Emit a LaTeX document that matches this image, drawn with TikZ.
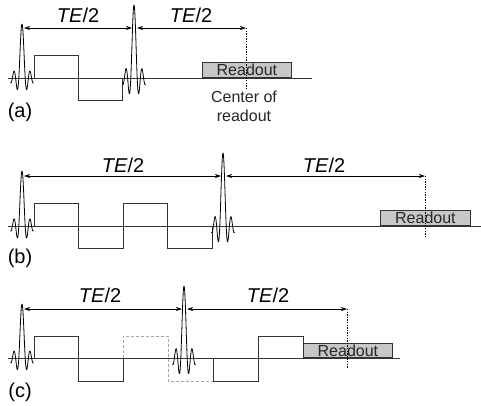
\documentclass[tikz,border=0pt]{standalone}
\usepackage{fontspec}
\setmainfont{Liberation Sans}
\usetikzlibrary{arrows.meta}
\tikzset{
    seqline/.style={line width=0.8pt, black!80},
    dashline/.style={line width=0.8pt, black!35, dash pattern=on 3pt off 2pt},
    dotline/.style={line width=0.8pt, dash pattern=on 1.3pt off 1.3pt},
    span/.style={line width=0.7pt, {Stealth[length=6pt,width=4pt]}-{Stealth[length=6pt,width=4pt]}},
    readbox/.style={draw=black!80, line width=0.8pt, fill=black!22},
    spanlabel/.style={font=\fontsize{20}{20}\selectfont},
    readlabel/.style={font=\fontsize{16}{19}\selectfont, text=black!85},
    panellabel/.style={font=\fontsize{20}{20}\selectfont}
}
\newcommand{\rfpulse}[3]{\draw[line width=0.8pt, shift={(#1,#2)}] plot[domain=-3.6:3.6, samples=72, smooth] ({3.2*\x}, {-#3*sin(180*\x)/(pi*\x)});}
\begin{document}
\begin{tikzpicture}[x=1pt, y=-1pt]
    \useasboundingbox (0,0) rectangle (481,405);

    % (a)
    \node[readbox, minimum width=89pt, minimum height=15pt, inner sep=0pt, anchor=south west] (aread) at (202,78) {};
    \draw[seqline] (8,78) coordinate (as) -- (312,78) coordinate (ae);
    \draw[seqline] (34,78) |- (78,55) |- (122,100) -- (122,78);
    \rfpulse{22}{78}{54}
    \rfpulse{134}{78}{73}
    \draw[dotline] (246,28) coordinate (at) -- (246,90);
    \node[readlabel] (atext) at (aread.center) {Readout};
    \coordinate (al) at (24,28); \coordinate (am) at (132,28); \coordinate (an) at (137,28);
    \draw[span] (al) -- (am);
    \draw[span] (an) -- (at);
    \node[spanlabel] (ate1) at (78,15) {\textit{TE}/2};
    \node[spanlabel] (ate2) at (191,15) {\textit{TE}/2};
    \node[readlabel, align=center] (acenter) at (244,106.5) {Center of\\readout};
    \node[panellabel] (apanel) at (20,112) {(a)};

    % (b)
    \node[readbox, minimum width=90pt, minimum height=15pt, inner sep=0pt, anchor=south west] (bread) at (380,226) {};
    \draw[seqline] (8,226) coordinate (bs) -- (481,226) coordinate (be);
    \draw[seqline] (34,226) |- (78,203) |- (123,248) |- (167,203) |- (212,248) -- (212,226);
    \rfpulse{22}{226}{55}
    \rfpulse{223}{226}{73}
    \draw[dotline] (425,176) coordinate (bt) -- (425,237);
    \node[readlabel] (btext) at (bread.center) {Readout};
    \coordinate (bl) at (24,176); \coordinate (bm) at (221,176); \coordinate (bn) at (226,176);
    \draw[span] (bl) -- (bm);
    \draw[span] (bn) -- (bt);
    \node[spanlabel] (bte1) at (123,165) {\textit{TE}/2};
    \node[spanlabel] (bte2) at (324,165) {\textit{TE}/2};
    \node[panellabel] (bpanel) at (20,258) {(b)};

    % (c)
    \node[readbox, minimum width=89pt, minimum height=14pt, inner sep=0pt, anchor=south west] (cread) at (303,358) {};
    \draw[dashline] (123,358) |- (168,336) |- (213,381);
    \draw[seqline] (8,358) coordinate (cs) -- (400,358) coordinate (ce);
    \draw[seqline] (34,358) |- (78,336) |- (123,381) -- (123,358);
    \draw[seqline] (213,358) |- (258,381) |- (303,336) -- (303,358);
    \rfpulse{22}{358}{54}
    \rfpulse{184}{358}{72}
    \draw[dotline] (347,309) coordinate (ct) -- (347,368);
    \node[readlabel] (ctext) at (cread.center) {Readout};
    \coordinate (cl) at (24,309); \coordinate (cm) at (182,309); \coordinate (cn) at (187,309);
    \draw[span] (cl) -- (cm);
    \draw[span] (cn) -- (ct);
    \node[spanlabel] (cte1) at (100,295) {\textit{TE}/2};
    \node[spanlabel] (cte2) at (268,295) {\textit{TE}/2};
    \node[panellabel] (cpanel) at (20,392) {(c)};
\end{tikzpicture}
\end{document}
